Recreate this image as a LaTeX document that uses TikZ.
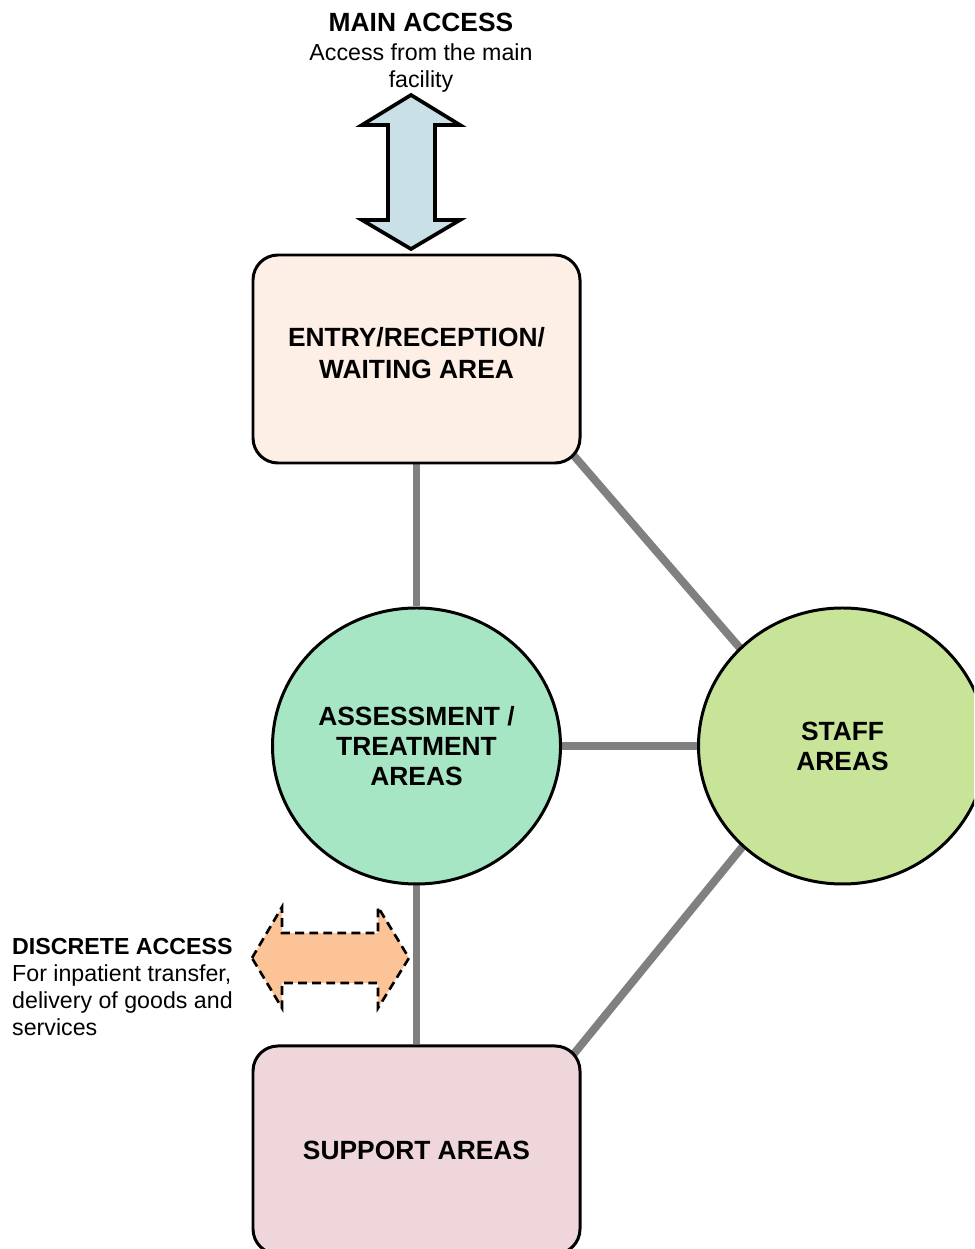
\documentclass[tikz,border=0pt]{standalone}
\usepackage{fontspec}
\setmainfont{Liberation Sans}
\usepackage{tikz}
\usetikzlibrary{positioning,shapes.geometric,backgrounds,calc}
\definecolor{entryfill}{RGB}{253,239,229}
\definecolor{assessfill}{RGB}{166,230,196}
\definecolor{stafffill}{RGB}{200,228,152}
\definecolor{supportfill}{RGB}{238,214,218}
\definecolor{mainblue}{RGB}{200,224,230}
\definecolor{discretepeach}{RGB}{252,196,150}
\definecolor{linkgray}{RGB}{128,128,128}
\tikzstyle{area} = [rectangle, rounded corners=0.5cm, minimum width=6.54cm, minimum height=4.16cm, align=center, draw=black, line width=1.7pt, font=\fontsize{15}{17}\selectfont\bfseries]
\tikzstyle{zone} = [ellipse, inner sep=0pt, minimum width=5.76cm, minimum height=5.52cm, align=center, draw=black, line width=1.7pt, font=\fontsize{15}{17}\selectfont\bfseries]
\tikzstyle{link} = [line width=4.5pt, color=linkgray]
\tikzstyle{accessarrow} = [draw=black, line width=2.1pt, line join=miter]

\begin{document}
\begin{tikzpicture}
\clip (0,0) rectangle (19.48,-24.98);
\useasboundingbox (0,0) rectangle (19.48,-24.98);

% Areas
\node (entry) [area, fill=entryfill] at (8.33,-7.18) {\raisebox{0.05cm}[\height][\depth]{\begin{tabular}{@{}c@{}}ENTRY/RECEPTION/\\[1pt]WAITING AREA\end{tabular}}};
\node (assess) [zone, fill=assessfill, below=2.84cm of entry] {ASSESSMENT /\\TREATMENT\\AREAS};
\node (staff) [zone, fill=stafffill, right=2.7cm of assess] {STAFF\\AREAS};
\node (support) [area, fill=supportfill, below=3.18cm of assess] {SUPPORT AREAS};

% Links between areas
\coordinate (staffaim) at ([xshift=-0.36cm]staff.center);
\begin{scope}[on background layer]
\draw[link] (entry) -- (assess);
\draw[link] (assess) -- (support);
\draw[link] (assess) -- (staff);
\draw[link] ($(staffaim)!1.1!(entry.south east)$) -- (staffaim);
\draw[link] ($(staffaim)!1.1!(support.north east)$) -- (staffaim);
\end{scope}

% Main access
\node (mainlabel) [align=center, font=\fontsize{13.2}{15.5}\selectfont] at (8.42,-1.06) {{\fontsize{15}{18}\selectfont\bfseries MAIN ACCESS}\\[1pt]Access from the main\\facility};
\draw[accessarrow, fill=mainblue] (8.22,-1.9) -- (9.20,-2.5) -- (8.70,-2.5) -- (8.70,-4.4) -- (9.20,-4.4) -- (8.22,-4.98)
  -- (7.24,-4.4) -- (7.76,-4.4) -- (7.76,-2.5) -- (7.24,-2.5) -- cycle;

% Discrete access
\node (discretelabel) [anchor=west, align=left, font=\fontsize{13.2}{15.3}\selectfont] at (0.12,-19.74) {\textbf{DISCRETE ACCESS}\\For inpatient transfer,\\delivery of goods and\\services};
\draw[accessarrow, line width=1.5pt, dash pattern=on 5pt off 3pt, fill=discretepeach] (5.04,-19.16) -- (5.64,-18.14) -- (5.64,-18.66) -- (7.56,-18.66) -- (7.56,-18.14) -- (8.18,-19.16)
  -- (7.56,-20.16) -- (7.56,-19.66) -- (5.64,-19.66) -- (5.64,-20.16) -- cycle;

\end{tikzpicture}
\end{document}
